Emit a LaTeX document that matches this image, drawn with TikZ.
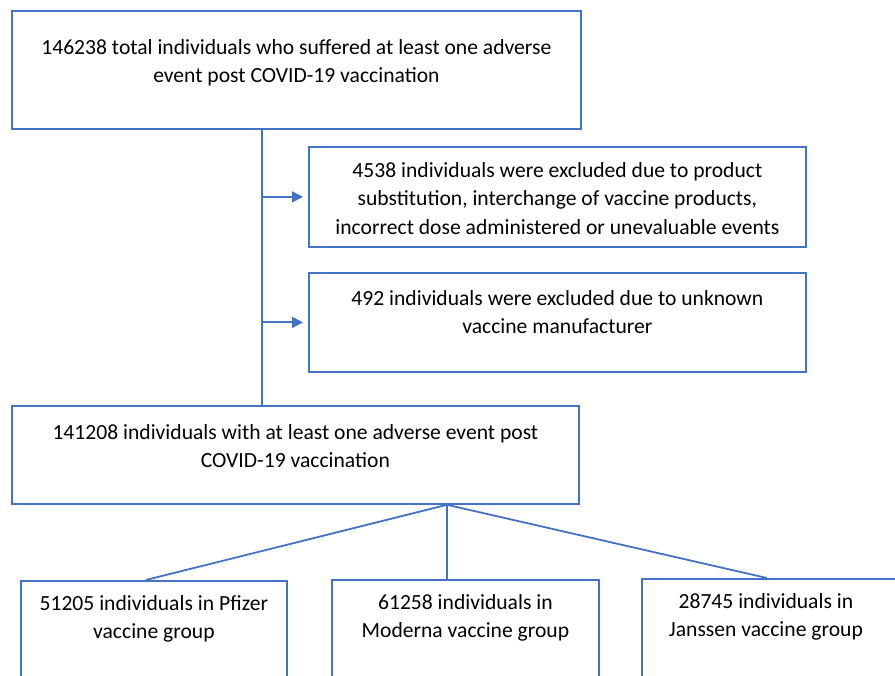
\documentclass[tikz,border=0pt]{standalone}
\usepackage{fontspec}
\setmainfont{Carlito}
\usetikzlibrary{positioning,arrows.meta}
\definecolor{boxblue}{RGB}{68,114,196}
\tikzset{
  box/.style={draw=boxblue, line width=1.8pt, anchor=north west, inner sep=0pt},
  txt/.style={anchor=north, align=center, inner sep=0pt, font=\fontsize{21.6}{28.5}\selectfont},
  link/.style={draw=boxblue, line width=1.8pt},
  arr/.style={link, -{Triangle[length=11pt,width=11pt]}}
}
\begin{document}
\begin{tikzpicture}[x=1pt,y=-1pt]
  \clip (0,0) rectangle (895,676);
  % boxes
  \node[box, minimum width=569pt, minimum height=118pt] (total) at (11,10) {};
  \node[box, minimum width=497pt, minimum height=100pt] (excla) at (308,146) {};
  \node[box, minimum width=497pt, minimum height=99pt] (exclb) at (308,272) {};
  \node[box, minimum width=567pt, minimum height=98pt] (valid) at (11,405) {};
  \node[box, minimum width=266pt, minimum height=120pt] (pfizer) at (20,580) {};
  \node[box, minimum width=267pt, minimum height=120pt] (moderna) at (331,579) {};
  \node[box, minimum width=280pt, minimum height=120pt] (janssen) at (641,578) {};
  % texts
  \node[txt] (total-t) at ([yshift=-29pt]total.north) {146238 total individuals who suffered at least one adverse\\event post COVID-19 vaccination};
  \node[txt] (excla-t) at ([yshift=-16pt]excla.north) {4538 individuals were excluded due to product\\substitution, interchange of vaccine products,\\incorrect dose administered or unevaluable events};
  \node[txt] (exclb-t) at ([yshift=-18pt]exclb.north) {492 individuals were excluded due to unknown\\vaccine manufacturer};
  \node[txt] (valid-t) at ([yshift=-19pt]valid.north) {141208 individuals with at least one adverse event post\\COVID-19 vaccination};
  \node[txt] (pfizer-t) at ([yshift=-15pt]pfizer.north) {51205 individuals in Pfizer\\vaccine group};
  \node[txt] (moderna-t) at ([yshift=-15pt]moderna.north) {61258 individuals in\\Moderna vaccine group};
  \node[txt] (janssen-t) at ([xshift=-16pt,yshift=-15pt]janssen.north) {28745 individuals in\\Janssen vaccine group};
  % connectors
  \coordinate (stem) at (262,0);
  \coordinate (fork) at (447,0);
  \draw[link] (stem |- total.south) -- (stem |- valid.north);
  \draw[arr] (stem |- excla.west) -- ([xshift=-5pt]excla.west);
  \draw[arr] (stem |- exclb.west) -- ([xshift=-5pt]exclb.west);
  \draw[link] (fork |- valid.south) -- ([xshift=-8pt]pfizer.north);
  \draw[link] (fork |- valid.south) -- (fork |- moderna.north);
  \draw[link] (fork |- valid.south) -- ([xshift=-15pt]janssen.north);
\end{tikzpicture}
\end{document}
